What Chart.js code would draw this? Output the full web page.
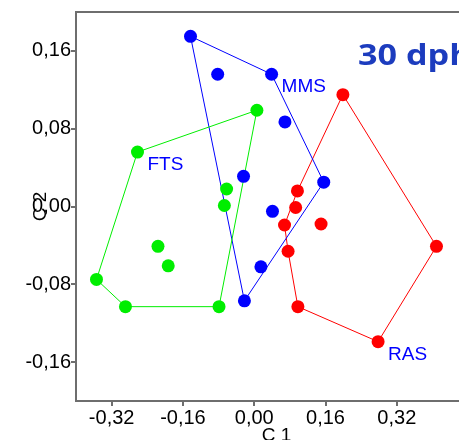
<!DOCTYPE html>
<html>
<head>
<meta charset="utf-8">
<script src="https://cdn.jsdelivr.net/npm/chart.js@4"></script>
<style>
  html, body { margin: 0; padding: 0; overflow: hidden; background: #fff; }
  #wrap { width: 500px; height: 450px; }
</style>
</head>
<body>
<div id="wrap"><canvas id="pca" width="500" height="450"></canvas></div>
<script>
// axis ticks
const xTicks = [-0.32, -0.16, 0, 0.16, 0.32];
const yTicks = [-0.16, -0.08, 0, 0.08, 0.16];

// scores per group, [C1, C2]
const ftsPoints = [
  [-0.262, 0.056], [0.006, 0.099], [-0.062, 0.018], [-0.067, 0.001],
  [-0.216, -0.041], [-0.193, -0.061], [-0.354, -0.075], [-0.289, -0.103], [-0.079, -0.103]
];
const mmsPoints = [
  [-0.143, 0.175], [-0.082, 0.136], [0.039, 0.136], [0.069, 0.087], [-0.024, 0.031],
  [0.156, 0.025], [0.041, -0.005], [0.015, -0.062], [-0.022, -0.097]
];
const rasPoints = [
  [0.199, 0.115], [0.097, 0.016], [0.093, -0.001], [0.068, -0.019], [0.150, -0.018],
  [0.076, -0.046], [0.409, -0.041], [0.098, -0.103], [0.278, -0.139]
];

// hull outlines, as indexes into the point lists
const ftsHull = [0, 1, 8, 7, 6, 0];
const mmsHull = [0, 2, 5, 8, 0];
const rasHull = [0, 1, 3, 5, 7, 8, 6, 0];

const panelTitle = "30 dph";

const axisGrey = "#6e6e6e";
const groups = [
  { name: "FTS", color: "#00ee00", points: ftsPoints, hull: ftsHull, tag: 0 },
  { name: "MMS", color: "#0000ff", points: mmsPoints, hull: mmsHull, tag: 2 },
  { name: "RAS", color: "#ff0000", points: rasPoints, hull: rasHull, tag: 8 },
];

const datasets = [];
groups.forEach(g => {
  datasets.push({
    label: g.name + " hull",
    data: g.hull.map(i => ({ x: g.points[i][0], y: g.points[i][1] })),
    showLine: true,
    borderColor: g.color,
    borderWidth: 1,
    pointRadius: 0,
    fill: false,
    order: 2
  });
  datasets.push({
    label: g.name,
    data: g.points.map(p => ({ x: p[0], y: p[1] })),
    backgroundColor: g.color,
    borderWidth: 0,
    pointRadius: 6.5,
    pointHoverRadius: 6.5,
    order: 1
  });
});

const fmt = v => v.toFixed(2).replace(".", ",");

const annotate = {
  id: "annotate",
  afterDraw(chart) {
    const { ctx, chartArea, scales: { x, y } } = chart;
    ctx.save();
    // top frame line
    ctx.strokeStyle = axisGrey;
    ctx.lineWidth = 2;
    ctx.beginPath();
    ctx.moveTo(chartArea.left, chartArea.top);
    ctx.lineTo(chart.width, chartArea.top);
    ctx.stroke();

    ctx.font = '19px "Liberation Sans", Arial, sans-serif';
    ctx.fillStyle = "#0000ff";
    ctx.textBaseline = "alphabetic";
    groups.forEach(g => {
      const p = g.points[g.tag];
      ctx.fillText(g.name, x.getPixelForValue(p[0]) + 10, y.getPixelForValue(p[1]) + 18);
    });

    // panel title, a bit wider than the stock face
    ctx.font = 'bold 28px "Open Sans", sans-serif';
    ctx.fillStyle = "#1c3cbe";
    ctx.translate(chartArea.left + 282, chartArea.top + 53);
    ctx.scale(1.22, 1);
    ctx.fillText(panelTitle, 0, 0);
    ctx.restore();
  }
};

const tickFont = { family: '"Liberation Sans", Arial, sans-serif', size: 20 };
const titleFont = { family: '"Liberation Sans", Arial, sans-serif', size: 19 };

new Chart(document.getElementById("pca"), {
  type: "scatter",
  data: { datasets },
  options: {
    responsive: false,
    animation: false,
    events: [],
    layout: { padding: { top: 8, right: 23, left: 0, bottom: 0 } },
    plugins: { legend: { display: false }, tooltip: { enabled: false } },
    scales: {
      x: {
        type: "linear",
        min: -0.4,
        max: 0.5,
        afterBuildTicks: s => { s.ticks = xTicks.map(v => ({ value: v })); },
        afterFit: s => { s.height = 49; },
        ticks: { callback: fmt, color: "#000", font: tickFont, padding: 0, maxRotation: 0, autoSkip: false },
        grid: { display: true, drawOnChartArea: false, drawTicks: true, tickLength: 5, color: axisGrey, lineWidth: 2 },
        border: { display: true, color: axisGrey, width: 2 },
        title: { display: true, text: "C 1", color: "#000", font: titleFont, padding: { top: 0, bottom: 3 } }
      },
      y: {
        type: "linear",
        min: -0.2,
        max: 0.2,
        afterBuildTicks: s => { s.ticks = yTicks.map(v => ({ value: v })); },
        afterFit: s => { s.width = 76; },
        ticks: { callback: fmt, color: "#000", font: tickFont, padding: 0, autoSkip: false },
        grid: { display: true, drawOnChartArea: false, drawTicks: true, tickLength: 5, color: axisGrey, lineWidth: 2 },
        border: { display: true, color: axisGrey, width: 2 },
        title: { display: true, text: "C 2", color: "#000", font: titleFont, padding: { top: 29, bottom: 0 } }
      }
    }
  },
  plugins: [annotate]
});
</script>
</body>
</html>
